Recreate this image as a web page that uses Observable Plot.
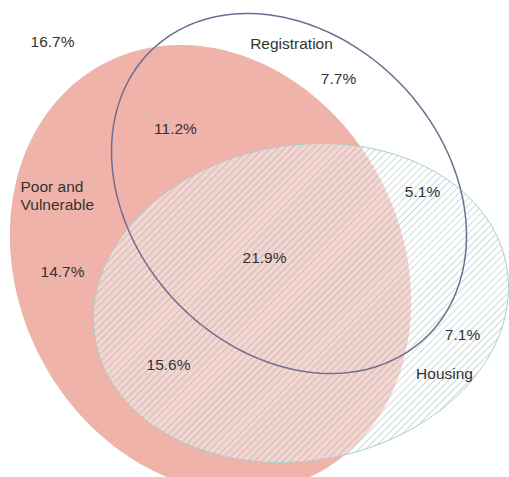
<!DOCTYPE html>
<html>
<head>
<meta charset="utf-8">
<script src="https://cdn.jsdelivr.net/npm/d3@7"></script>
<script src="https://cdn.jsdelivr.net/npm/@observablehq/plot@0.6"></script>
<style>
  html, body { margin: 0; padding: 0; background: #fff; }
  #chart svg { display: block; }
</style>
</head>
<body>
<div id="chart"></div>
<script>
// ---- Data ----
const setNames = ["Poor and\nVulnerable", "Registration", "Housing"];
// ellipse geometry (chart units): centre, semi-axes, rotation (degrees)
const ellipseCx = [210, 288.5, 300.5];
const ellipseCy = [268, 193, 302.5];
const ellipseA = [231, 198.6, 208.9];
const ellipseB = [192, 156.4, 157.7];
const ellipseRot = [63, 46.7, -10];

const setLabelX = [20, 291, 444];
const setLabelY = [195, 44, 374];

const regionLabels = ["16.7%", "7.7%", "11.2%", "14.7%", "21.9%", "5.1%", "15.6%", "7.1%"];
const regionX = [52, 338, 175, 62, 264, 422, 168, 462];
const regionY = [42, 79, 129, 272, 258, 192, 365, 335];

// ---- Build outlines ----
function outline(i) {
  const th = ellipseRot[i] * Math.PI / 180;
  return d3.range(0, 360, 2).map(deg => {
    const t = deg * Math.PI / 180;
    const ex = ellipseA[i] * Math.cos(t), ey = ellipseB[i] * Math.sin(t);
    return {
      x: ellipseCx[i] + ex * Math.cos(th) - ey * Math.sin(th),
      y: ellipseCy[i] + ex * Math.sin(th) + ey * Math.cos(th)
    };
  });
}
const poor = outline(0), reg = outline(1), housing = outline(2);
const setTable = setNames.map((name, i) => ({name, x: setLabelX[i], y: setLabelY[i]}));
const regionTable = regionLabels.map((label, i) => ({label, x: regionX[i], y: regionY[i]}));

const W = 509, H = 477;
const font = "'Liberation Sans', Arial, sans-serif";

const chart = Plot.plot({
  width: W,
  height: H,
  margin: 0,
  x: {domain: [0, W], range: [0, W], axis: null},
  y: {domain: [0, H], range: [0, H], axis: null},
  style: {fontFamily: font, background: "#fff"},
  marks: [
    Plot.line(poor, {x: "x", y: "y", curve: "linear-closed", fill: "#efb3aa", stroke: "none"}),
    Plot.line(housing, {x: "x", y: "y", curve: "linear-closed", fill: "#ffffff", fillOpacity: 0.45, stroke: "none"}),
    Plot.line(housing, {x: "x", y: "y", curve: "linear-closed", fill: "url(#hatch)", stroke: "#a9cfcc", strokeWidth: 1}),
    Plot.line(reg, {x: "x", y: "y", curve: "linear-closed", fill: "none", stroke: "#6f6d92", strokeWidth: 1.5}),
    Plot.text(setTable.slice(0, 1), {
      x: "x", y: "y", text: "name", textAnchor: "start",
      fontSize: 15.5, fill: "#333", lineHeight: 1.15
    }),
    Plot.text(setTable.slice(1), {
      x: "x", y: "y", text: "name", textAnchor: "middle",
      fontSize: 15.5, fill: "#333"
    }),
    Plot.text(regionTable, {
      x: "x", y: "y", text: "label",
      fontSize: 15.5, fill: "#333"
    })
  ]
});

// hatch pattern
const svgNS = "http://www.w3.org/2000/svg";
const defs = document.createElementNS(svgNS, "defs");
defs.innerHTML = `<pattern id="hatch" patternUnits="userSpaceOnUse" width="5" height="5" patternTransform="rotate(45)">
  <line x1="0" y1="0" x2="0" y2="5" stroke="#6f9995" stroke-opacity="0.8" stroke-width="0.9"/>
</pattern>`;
chart.insertBefore(defs, chart.firstChild);

document.getElementById("chart").appendChild(chart);
</script>
</body>
</html>
